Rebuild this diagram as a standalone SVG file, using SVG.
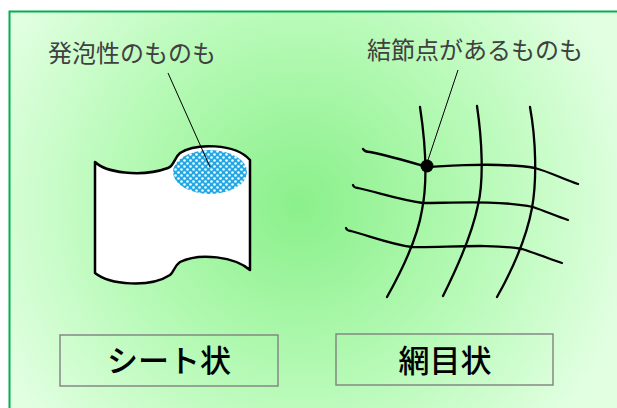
<svg xmlns="http://www.w3.org/2000/svg" width="617" height="408" viewBox="0 0 617 408">
  <defs>
    <radialGradient id="bg" cx="300" cy="205" r="340" gradientUnits="userSpaceOnUse">
      <stop offset="0" stop-color="#8af08a"/>
      <stop offset="0.55" stop-color="#b8fab8"/>
      <stop offset="1" stop-color="#e2ffe2"/>
    </radialGradient>
    <pattern id="foam" width="6" height="6" patternUnits="userSpaceOnUse">
      <rect width="6" height="6" fill="#22a6e4"/>
      <circle cx="1.5" cy="1.5" r="1.3" fill="#ffffff"/>
      <circle cx="4.5" cy="4.5" r="1.3" fill="#ffffff"/>
    </pattern>
    <style>
      .lbl { font-family: "Noto Sans CJK JP", "Noto Sans", sans-serif; font-size: 24px; fill: #404040; }
      .cap { font-family: "Noto Sans CJK JP", "Noto Sans", sans-serif; font-size: 31px; font-weight: 500; fill: #000; text-anchor: middle; }
      .box { fill: none; stroke: #808080; stroke-width: 1.4; }
      .net { fill: none; stroke: #000; stroke-width: 2.3; stroke-linecap: round; }
      .lead { fill: none; stroke: #000; stroke-width: 1; }
    </style>
  </defs>

  <!-- background panel -->
  <rect x="0" y="0" width="617" height="408" fill="#ffffff"/>
  <rect x="9.5" y="11.5" width="620" height="410" fill="url(#bg)" stroke="#00b050" stroke-width="2"/>

  <!-- sheet-like material -->
  <g id="sheet">
    <path d="M95,162 C105,172 140,178 168,168 C174,166 174,158 180,153 C195,143 235,143 250,160 L250,270 C235,257 200,252 180,262 C174,266 174,272 170,275 C150,288 110,285 95,273 Z" fill="#ffffff" stroke="#000" stroke-width="2.5" stroke-linejoin="round"/>
    <ellipse cx="210" cy="172" rx="37" ry="22" fill="url(#foam)"/>
  </g>

  <!-- mesh-like material -->
  <g id="mesh">
    <path class="net" d="M420,107 C425,140 428,180 422,210 C418,235 405,265 387,297"/>
    <path class="net" d="M477,106 C482,140 484,180 478,205 C473,230 460,262 443,296"/>
    <path class="net" d="M530,107 C536,140 537,180 532,208 C527,235 515,265 497,297"/>
    <path class="net" d="M363,149 Q365,152 370,152 C390,156 410,162 427,167 C450,166 500,162 535,168 C550,172 565,180 578,184"/>
    <path class="net" d="M353,185 Q354,188 358,188 C380,193 400,200 423,203 C450,203 500,200 533,207 C545,211 556,216 568,220"/>
    <path class="net" d="M346,228 Q347,231 351,231 C370,236 390,244 412,247 C440,248 490,243 522,249 C535,253 550,259 562,263"/>
    <circle cx="427" cy="166" r="6.5" fill="#000"/>
  </g>

  <!-- callouts -->
  <g id="callout-foam">
    <line class="lead" x1="168" y1="73" x2="210" y2="167"/>
    <text class="lbl" x="48" y="62">発泡性のものも</text>
  </g>
  <g id="callout-node">
    <line class="lead" x1="458" y1="70" x2="428" y2="160"/>
    <text class="lbl" x="367" y="59">結節点があるものも</text>
  </g>

  <!-- captions -->
  <g id="caption-sheet">
    <rect class="box" x="60" y="335" width="218" height="51"/>
    <text class="cap" x="169" y="372">シート状</text>
  </g>
  <g id="caption-mesh">
    <rect class="box" x="336" y="334" width="217" height="51"/>
    <text class="cap" x="445" y="372">網目状</text>
  </g>
</svg>
